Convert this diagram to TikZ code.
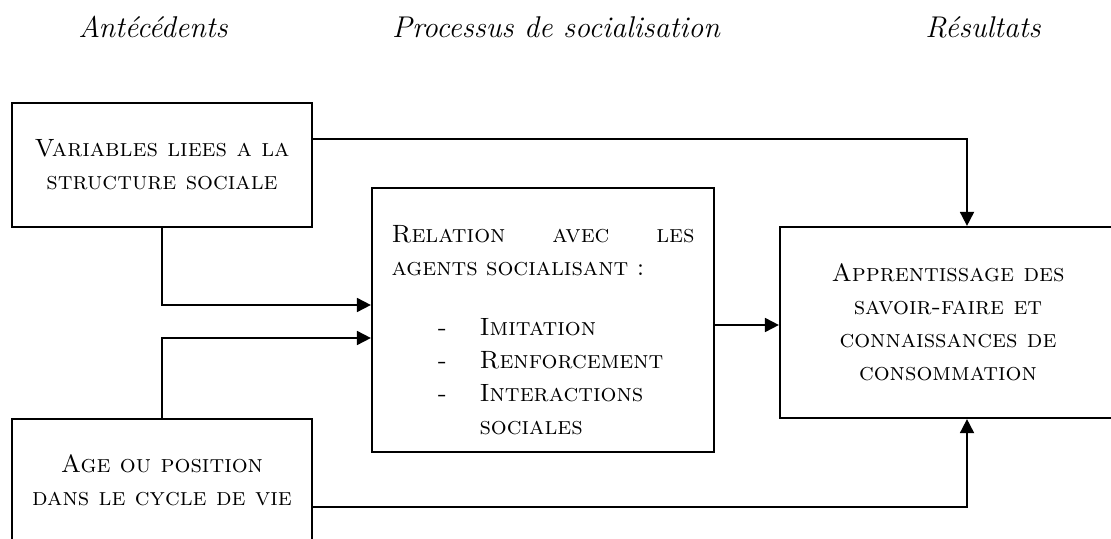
\documentclass[tikz,border=0pt]{standalone}
\usetikzlibrary{arrows.meta}
\begin{document}
\begin{tikzpicture}[x=0.5pt,y=-0.5pt,
  boxnode/.style={draw, line width=1.1pt, inner sep=0pt, align=center,
    font=\fontsize{12.5}{16.5}\selectfont\scshape},
  txt/.style={inner sep=0pt, font=\fontsize{12.5}{16.5}\selectfont\scshape},
  head/.style={inner sep=0pt, font=\fontsize{15}{17}\selectfont\itshape},
  arr/.style={line width=0.9pt, -{Triangle[length=7pt,width=7pt]}}]
\useasboundingbox (0,0) rectangle (1111,539);
\clip (0,0) rectangle (1111,539);

% headers
\node[head] (h1) at (153,27) {Antécédents};
\node[head] (h2) at (556,27) {Processus de socialisation};
\node[head] (h3) at (983,27) {Résultats};

% boxes
\node[boxnode, minimum width=150pt, minimum height=62pt] (b1) at (162,165)
  {Variables liees a la\\ structure sociale};
\node[boxnode, minimum width=171pt, minimum height=132pt] (b2) at (543,320) {};
\node[txt, text width=151.5pt, align=left] (t2) at (543,330)
  {Relation\hfill avec\hfill les\\
   agents socialisant :\\[13.5pt]
   \hspace*{23pt}\makebox[21pt][l]{-}Imitation\\
   \hspace*{23pt}\makebox[21pt][l]{-}Renforcement\\
   \hspace*{23pt}\makebox[21pt][l]{-}Interactions\\
   \hspace*{44pt}sociales};
\node[boxnode, minimum width=168pt, minimum height=95.5pt] (b3) at (948,322.5)
  {Apprentissage des\\ savoir-faire et\\ connaissances de\\ consommation};
\node[boxnode, minimum width=150pt, minimum height=61.5pt] (b4) at (162,480.5)
  {Age ou position\\ dans le cycle de vie};

\coordinate (c1) at (967,0);

% connectors
\draw[arr] ([yshift=13pt]b1.east) -| (b3.north -| c1);
\draw[arr] ([yshift=-13.25pt]b4.east) -| (b3.south -| c1);
\draw[arr] (b1.south) |- ([yshift=7.5pt]b2.west);
\draw[arr] (b4.north) |- ([yshift=-9pt]b2.west);
\draw[arr] ([yshift=-2.5pt]b2.east) -- ([yshift=-2.5pt]b2.east -| b3.west);
\end{tikzpicture}
\end{document}
